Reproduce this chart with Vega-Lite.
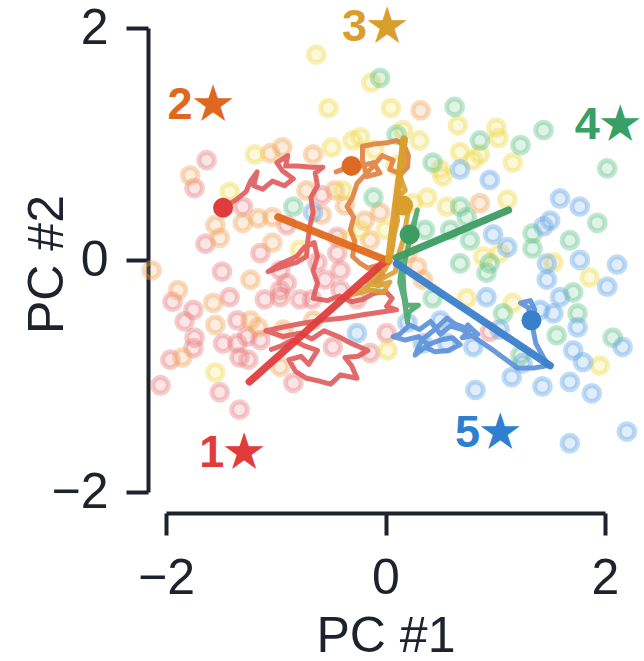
{
  "$schema": "https://vega.github.io/schema/vega-lite/v6.json",
  "autosize": "none",
  "width": 439,
  "height": 464,
  "padding": {"left": 166, "top": 28, "right": 39, "bottom": 169},
  "background": "white",
  "config": {
    "view": {"stroke": null},
    "font": "Liberation Sans",
    "axis": {
      "grid": false,
      "domainWidth": 4,
      "domainColor": "#1e222c",
      "tickWidth": 4,
      "tickSize": 22,
      "tickColor": "#1e222c",
      "labelFontSize": 50,
      "labelColor": "#1e222c",
      "labelFlush": false,
      "labelFont": "Liberation Sans",
      "titleFont": "Liberation Sans",
      "titleFontSize": 50,
      "titleFontWeight": "normal",
      "titleColor": "#1e222c"
    }
  },
  "datasets": {
    "pts": [
      {"g": 1, "x": -1.63, "y": 0.86}, {"g": 1, "x": -1.74, "y": 0.62}, {"g": 1, "x": -1.30, "y": 0.46},
      {"g": 1, "x": -1.64, "y": 0.14}, {"g": 1, "x": -1.14, "y": 0.06}, {"g": 1, "x": -1.49, "y": -0.10},
      {"g": 1, "x": -1.94, "y": -0.36}, {"g": 1, "x": -1.83, "y": -0.53}, {"g": 1, "x": -1.75, "y": -0.43},
      {"g": 1, "x": -1.42, "y": -0.32}, {"g": 1, "x": -1.35, "y": -0.52}, {"g": 1, "x": -1.74, "y": -0.67},
      {"g": 1, "x": -1.75, "y": -0.76}, {"g": 1, "x": -1.96, "y": -0.86}, {"g": 1, "x": -2.05, "y": -1.08},
      {"g": 1, "x": -1.51, "y": -1.14}, {"g": 1, "x": -1.33, "y": -1.29}, {"g": 1, "x": -1.48, "y": -0.72},
      {"g": 1, "x": -1.35, "y": -0.72}, {"g": 1, "x": -1.26, "y": -0.66}, {"g": 1, "x": -1.14, "y": -0.69},
      {"g": 1, "x": -1.33, "y": -0.84}, {"g": 1, "x": -0.96, "y": -0.26}, {"g": 1, "x": -0.90, "y": -0.20},
      {"g": 1, "x": -0.96, "y": -0.32}, {"g": 1, "x": -0.96, "y": -0.09}, {"g": 1, "x": -0.90, "y": 0.30},
      {"g": 1, "x": -0.58, "y": 0.56}, {"g": 1, "x": -0.84, "y": -1.06}, {"g": 1, "x": -0.48, "y": -0.75},
      {"g": 1, "x": -0.14, "y": -0.80}, {"g": 1, "x": 0.01, "y": -0.63}, {"g": 1, "x": -0.26, "y": -0.34},
      {"g": 1, "x": -0.41, "y": -0.26}, {"g": 1, "x": -0.41, "y": -0.09}, {"g": 1, "x": -0.44, "y": 0.06},
      {"g": 1, "x": -0.44, "y": 0.20}, {"g": 1, "x": 0.95, "y": -0.62}, {"g": 1, "x": -0.67, "y": -0.34},
      {"g": 1, "x": -1.25, "y": -0.86}, {"g": 1, "x": -1.10, "y": -0.34}, {"g": 1, "x": -0.78, "y": -0.34},
      {"g": 1, "x": -0.55, "y": -0.17}, {"g": 1, "x": -0.62, "y": -0.02},
      {"g": 2, "x": -1.78, "y": 0.73}, {"g": 2, "x": -1.55, "y": 0.30}, {"g": 2, "x": -1.51, "y": 0.19},
      {"g": 2, "x": -1.30, "y": 0.32}, {"g": 2, "x": -1.16, "y": 0.36}, {"g": 2, "x": -1.03, "y": 0.37},
      {"g": 2, "x": -1.03, "y": 0.15}, {"g": 2, "x": -2.13, "y": -0.09}, {"g": 2, "x": -1.23, "y": -0.17},
      {"g": 2, "x": -1.89, "y": -0.26}, {"g": 2, "x": -1.57, "y": -0.37}, {"g": 2, "x": -1.55, "y": -0.56},
      {"g": 2, "x": -1.85, "y": -0.84}, {"g": 2, "x": -1.23, "y": -0.52}, {"g": 2, "x": -1.16, "y": -0.58},
      {"g": 2, "x": -0.96, "y": -0.92}, {"g": 2, "x": -0.93, "y": -0.60}, {"g": 2, "x": -0.66, "y": -0.52},
      {"g": 2, "x": -1.05, "y": 0.92}, {"g": 2, "x": -0.94, "y": 0.97}, {"g": 2, "x": -0.66, "y": 0.91},
      {"g": 2, "x": 0.32, "y": 1.29}, {"g": 2, "x": -0.14, "y": 0.17}, {"g": 2, "x": -0.05, "y": 0.41},
      {"g": 2, "x": 0.86, "y": 0.49}, {"g": 2, "x": 0.20, "y": 0.06}, {"g": 2, "x": 0.29, "y": -0.06},
      {"g": 2, "x": 0.34, "y": -0.17}, {"g": 2, "x": -0.72, "y": 0.60}, {"g": 2, "x": -0.58, "y": 0.39},
      {"g": 2, "x": -0.37, "y": 0.47}, {"g": 2, "x": -0.46, "y": 0.60}, {"g": 2, "x": -0.19, "y": 0.34},
      {"g": 3, "x": -0.63, "y": 1.77}, {"g": 3, "x": -0.13, "y": 1.53}, {"g": 3, "x": -0.52, "y": 1.31},
      {"g": 3, "x": 0.05, "y": 1.31}, {"g": 3, "x": 0.66, "y": 1.16}, {"g": 3, "x": 1.01, "y": 1.14},
      {"g": 3, "x": 1.03, "y": 1.05}, {"g": 3, "x": 0.68, "y": 0.93}, {"g": 3, "x": 0.16, "y": 1.12},
      {"g": 3, "x": -0.23, "y": 1.06}, {"g": 3, "x": -0.49, "y": 0.97}, {"g": 3, "x": -1.19, "y": 0.91},
      {"g": 3, "x": -1.42, "y": 0.59}, {"g": 3, "x": -1.55, "y": -0.97}, {"g": 3, "x": -0.35, "y": 0.17},
      {"g": 3, "x": -0.39, "y": 0.60}, {"g": 3, "x": -0.23, "y": 0.26}, {"g": 3, "x": 0.25, "y": 0.49},
      {"g": 3, "x": 0.38, "y": 0.54}, {"g": 3, "x": 0.52, "y": 0.72}, {"g": 3, "x": 0.80, "y": 0.86},
      {"g": 3, "x": 1.16, "y": 0.84}, {"g": 3, "x": 1.11, "y": 0.52}, {"g": 3, "x": 0.56, "y": 0.46},
      {"g": 3, "x": 0.89, "y": 0.03}, {"g": 3, "x": 1.04, "y": 0.06}, {"g": 3, "x": 1.53, "y": -0.02},
      {"g": 3, "x": 1.86, "y": -0.15}, {"g": 3, "x": 1.16, "y": -0.37}, {"g": 3, "x": 0.74, "y": -0.33},
      {"g": 3, "x": 0.02, "y": -0.78}, {"g": 3, "x": 1.95, "y": -0.91}, {"g": 3, "x": 0.50, "y": 0.78},
      {"g": 3, "x": 0.86, "y": 0.91}, {"g": 3, "x": -0.30, "y": 1.03}, {"g": 3, "x": -0.10, "y": 0.95},
      {"g": 3, "x": 0.31, "y": 1.03}, {"g": 3, "x": 0.09, "y": 0.82}, {"g": 3, "x": -0.78, "y": 0.09},
      {"g": 3, "x": 0.00, "y": 0.26},
      {"g": 4, "x": -0.05, "y": 1.57}, {"g": 4, "x": 0.63, "y": 1.32}, {"g": 4, "x": 1.44, "y": 1.12},
      {"g": 4, "x": 0.86, "y": 1.03}, {"g": 4, "x": 1.23, "y": 0.99}, {"g": 4, "x": 0.43, "y": 0.84},
      {"g": 4, "x": 0.10, "y": 1.08}, {"g": 4, "x": 2.02, "y": 0.79}, {"g": 4, "x": 0.68, "y": 0.46},
      {"g": 4, "x": 0.74, "y": 0.37}, {"g": 4, "x": 0.59, "y": 0.26}, {"g": 4, "x": 0.77, "y": 0.17},
      {"g": 4, "x": 0.68, "y": -0.03}, {"g": 4, "x": 0.92, "y": -0.11}, {"g": 4, "x": 1.34, "y": 0.23},
      {"g": 4, "x": 1.68, "y": 0.17}, {"g": 4, "x": 1.34, "y": 0.10}, {"g": 4, "x": 1.93, "y": 0.32},
      {"g": 4, "x": 0.95, "y": -0.03}, {"g": 4, "x": 1.71, "y": -0.28}, {"g": 4, "x": 1.75, "y": -0.46},
      {"g": 4, "x": 1.56, "y": -0.65}, {"g": 4, "x": 1.07, "y": -0.46}, {"g": 4, "x": 0.43, "y": -0.33},
      {"g": 4, "x": 2.07, "y": -0.67}, {"g": 4, "x": 1.23, "y": -0.82}, {"g": 4, "x": -0.11, "y": -0.20},
      {"g": 4, "x": -0.11, "y": 0.54}, {"g": 4, "x": -0.84, "y": 0.46}, {"g": 4, "x": 0.36, "y": 0.26},
      {"g": 5, "x": 0.68, "y": 0.78}, {"g": 5, "x": 0.95, "y": 0.69}, {"g": 5, "x": 0.98, "y": 0.22},
      {"g": 5, "x": 1.11, "y": 0.11}, {"g": 5, "x": 1.59, "y": 0.53}, {"g": 5, "x": 1.77, "y": 0.46},
      {"g": 5, "x": 1.50, "y": 0.34}, {"g": 5, "x": 1.44, "y": 0.29}, {"g": 5, "x": 1.47, "y": -0.03},
      {"g": 5, "x": 1.77, "y": 0.00}, {"g": 5, "x": 2.11, "y": -0.04}, {"g": 5, "x": 2.02, "y": -0.23},
      {"g": 5, "x": 1.47, "y": -0.17}, {"g": 5, "x": 1.59, "y": -0.32}, {"g": 5, "x": 1.41, "y": -0.43},
      {"g": 5, "x": 0.92, "y": -0.32}, {"g": 5, "x": 1.75, "y": -0.58}, {"g": 5, "x": 1.71, "y": -0.78},
      {"g": 5, "x": 1.80, "y": -0.88}, {"g": 5, "x": 1.53, "y": -0.46}, {"g": 5, "x": 1.15, "y": -1.01},
      {"g": 5, "x": 1.43, "y": -1.09}, {"g": 5, "x": 1.68, "y": -1.05}, {"g": 5, "x": 1.88, "y": -1.15},
      {"g": 5, "x": 0.82, "y": -1.12}, {"g": 5, "x": 1.68, "y": -1.58}, {"g": 5, "x": 2.20, "y": -1.48},
      {"g": 5, "x": 2.16, "y": -0.75}, {"g": 5, "x": 0.56, "y": -0.72}, {"g": 5, "x": 0.80, "y": -0.75},
      {"g": 5, "x": 0.34, "y": -0.72}, {"g": 5, "x": 0.20, "y": -0.54}, {"g": 5, "x": -0.26, "y": -0.63},
      {"g": 5, "x": -0.66, "y": 0.41}, {"g": 5, "x": 1.25, "y": -0.89}, {"g": 5, "x": 0.50, "y": -0.52},
      {"g": 5, "x": 1.04, "y": -0.60}
    ],
    "walks": [
      {"g": 1, "i": 1, "x": -1.48, "y": 0.45}, {"g": 1, "i": 2, "x": -1.36, "y": 0.52}, {"g": 1, "i": 3, "x": -1.27, "y": 0.59},
      {"g": 1, "i": 4, "x": -1.23, "y": 0.68}, {"g": 1, "i": 5, "x": -1.17, "y": 0.76}, {"g": 1, "i": 6, "x": -1.20, "y": 0.64},
      {"g": 1, "i": 7, "x": -1.12, "y": 0.61}, {"g": 1, "i": 8, "x": -1.03, "y": 0.68}, {"g": 1, "i": 9, "x": -0.92, "y": 0.64},
      {"g": 1, "i": 10, "x": -0.84, "y": 0.70}, {"g": 1, "i": 11, "x": -0.94, "y": 0.77}, {"g": 1, "i": 12, "x": -0.99, "y": 0.84},
      {"g": 1, "i": 13, "x": -0.89, "y": 0.90}, {"g": 1, "i": 14, "x": -0.91, "y": 0.81}, {"g": 1, "i": 15, "x": -0.80, "y": 0.81},
      {"g": 1, "i": 16, "x": -0.67, "y": 0.80}, {"g": 1, "i": 17, "x": -0.57, "y": 0.80}, {"g": 1, "i": 18, "x": -0.64, "y": 0.75},
      {"g": 1, "i": 19, "x": -0.62, "y": 0.64}, {"g": 1, "i": 20, "x": -0.68, "y": 0.54}, {"g": 1, "i": 21, "x": -0.66, "y": 0.41},
      {"g": 1, "i": 22, "x": -0.69, "y": 0.29}, {"g": 1, "i": 23, "x": -0.71, "y": 0.15}, {"g": 1, "i": 24, "x": -0.72, "y": 0.03},
      {"g": 1, "i": 25, "x": -0.81, "y": -0.02}, {"g": 1, "i": 26, "x": -0.92, "y": -0.05}, {"g": 1, "i": 27, "x": -1.07, "y": -0.10},
      {"g": 1, "i": 28, "x": -0.95, "y": -0.03}, {"g": 1, "i": 29, "x": -0.81, "y": 0.03}, {"g": 1, "i": 30, "x": -0.74, "y": 0.11},
      {"g": 1, "i": 31, "x": -0.65, "y": 0.15}, {"g": 1, "i": 32, "x": -0.62, "y": 0.03}, {"g": 1, "i": 33, "x": -0.66, "y": -0.09},
      {"g": 1, "i": 34, "x": -0.62, "y": -0.20}, {"g": 1, "i": 35, "x": -0.66, "y": -0.33}, {"g": 1, "i": 36, "x": -0.53, "y": -0.35},
      {"g": 1, "i": 37, "x": -0.42, "y": -0.31}, {"g": 1, "i": 38, "x": -0.31, "y": -0.36}, {"g": 1, "i": 39, "x": -0.21, "y": -0.34},
      {"g": 1, "i": 40, "x": -0.11, "y": -0.29}, {"g": 1, "i": 41, "x": 0.00, "y": -0.27}, {"g": 1, "i": 42, "x": 0.06, "y": -0.33},
      {"g": 1, "i": 43, "x": 0.01, "y": -0.40}, {"g": 1, "i": 44, "x": 0.10, "y": -0.43}, {"g": 1, "i": 45, "x": -0.05, "y": -0.45},
      {"g": 1, "i": 46, "x": -0.19, "y": -0.47}, {"g": 1, "i": 47, "x": -0.38, "y": -0.50}, {"g": 1, "i": 48, "x": -0.58, "y": -0.52},
      {"g": 1, "i": 49, "x": -0.78, "y": -0.55}, {"g": 1, "i": 50, "x": -0.94, "y": -0.58}, {"g": 1, "i": 51, "x": -1.09, "y": -0.61},
      {"g": 1, "i": 52, "x": -0.93, "y": -0.66}, {"g": 1, "i": 53, "x": -0.78, "y": -0.63}, {"g": 1, "i": 54, "x": -0.67, "y": -0.68},
      {"g": 1, "i": 55, "x": -0.56, "y": -0.61}, {"g": 1, "i": 56, "x": -0.43, "y": -0.66}, {"g": 1, "i": 57, "x": -0.31, "y": -0.72},
      {"g": 1, "i": 58, "x": -0.16, "y": -0.78}, {"g": 1, "i": 59, "x": -0.25, "y": -0.83}, {"g": 1, "i": 60, "x": -0.37, "y": -0.84},
      {"g": 1, "i": 61, "x": -0.31, "y": -0.91}, {"g": 1, "i": 62, "x": -0.26, "y": -1.02}, {"g": 1, "i": 63, "x": -0.41, "y": -0.99},
      {"g": 1, "i": 64, "x": -0.50, "y": -1.07}, {"g": 1, "i": 65, "x": -0.62, "y": -1.04}, {"g": 1, "i": 66, "x": -0.72, "y": -1.02},
      {"g": 1, "i": 67, "x": -0.82, "y": -0.96}, {"g": 1, "i": 68, "x": -0.88, "y": -0.86}, {"g": 1, "i": 69, "x": -0.77, "y": -0.83},
      {"g": 1, "i": 70, "x": -0.70, "y": -0.90}, {"g": 1, "i": 71, "x": -0.62, "y": -0.78}, {"g": 1, "i": 72, "x": -0.74, "y": -0.74},
      {"g": 1, "i": 73, "x": -0.85, "y": -0.69}, {"g": 1, "i": 74, "x": -0.95, "y": -0.74}, {"g": 1, "i": 75, "x": -1.04, "y": -0.77},
      {"g": 2, "i": 1, "x": -0.31, "y": 0.81}, {"g": 2, "i": 2, "x": -0.45, "y": 0.76}, {"g": 2, "i": 3, "x": -0.37, "y": 0.79},
      {"g": 2, "i": 4, "x": -0.23, "y": 0.81}, {"g": 2, "i": 5, "x": -0.11, "y": 0.84}, {"g": 2, "i": 6, "x": -0.05, "y": 0.75},
      {"g": 2, "i": 7, "x": -0.17, "y": 0.72}, {"g": 2, "i": 8, "x": -0.21, "y": 0.86}, {"g": 2, "i": 9, "x": -0.21, "y": 0.98},
      {"g": 2, "i": 10, "x": -0.10, "y": 1.00}, {"g": 2, "i": 11, "x": 0.01, "y": 1.01}, {"g": 2, "i": 12, "x": 0.10, "y": 1.03},
      {"g": 2, "i": 13, "x": 0.17, "y": 0.99}, {"g": 2, "i": 14, "x": 0.21, "y": 0.90}, {"g": 2, "i": 15, "x": 0.20, "y": 0.80},
      {"g": 2, "i": 16, "x": 0.14, "y": 0.74}, {"g": 2, "i": 17, "x": 0.04, "y": 0.78}, {"g": 2, "i": 18, "x": 0.07, "y": 0.86},
      {"g": 2, "i": 19, "x": -0.03, "y": 0.90}, {"g": 2, "i": 20, "x": -0.13, "y": 0.79}, {"g": 2, "i": 21, "x": -0.26, "y": 0.66},
      {"g": 2, "i": 22, "x": -0.30, "y": 0.54}, {"g": 2, "i": 23, "x": -0.35, "y": 0.46}, {"g": 2, "i": 24, "x": -0.29, "y": 0.37},
      {"g": 2, "i": 25, "x": -0.32, "y": 0.26}, {"g": 2, "i": 26, "x": -0.28, "y": 0.16}, {"g": 2, "i": 27, "x": -0.30, "y": 0.03},
      {"g": 2, "i": 28, "x": -0.23, "y": -0.03}, {"g": 2, "i": 29, "x": -0.16, "y": -0.07}, {"g": 2, "i": 30, "x": -0.09, "y": -0.05},
      {"g": 2, "i": 31, "x": -0.02, "y": -0.13}, {"g": 2, "i": 32, "x": -0.10, "y": -0.19},
      {"g": 3, "i": 1, "x": 0.16, "y": 0.47}, {"g": 3, "i": 2, "x": 0.10, "y": 0.53}, {"g": 3, "i": 3, "x": 0.18, "y": 0.60},
      {"g": 3, "i": 4, "x": 0.13, "y": 0.73}, {"g": 3, "i": 5, "x": 0.17, "y": 0.86}, {"g": 3, "i": 6, "x": 0.15, "y": 0.99},
      {"g": 3, "i": 7, "x": 0.18, "y": 1.03}, {"g": 3, "i": 8, "x": 0.14, "y": 0.88}, {"g": 3, "i": 9, "x": 0.12, "y": 0.69},
      {"g": 3, "i": 10, "x": 0.10, "y": 0.47}, {"g": 3, "i": 11, "x": 0.11, "y": 0.34}, {"g": 3, "i": 12, "x": 0.08, "y": 0.22},
      {"g": 3, "i": 13, "x": 0.06, "y": 0.09}, {"g": 3, "i": 14, "x": 0.03, "y": -0.02}, {"g": 3, "i": 15, "x": -0.01, "y": -0.09},
      {"g": 3, "i": 16, "x": -0.10, "y": -0.13}, {"g": 3, "i": 17, "x": -0.16, "y": -0.19}, {"g": 3, "i": 18, "x": -0.07, "y": -0.22},
      {"g": 3, "i": 19, "x": 0.04, "y": -0.19}, {"g": 3, "i": 20, "x": -0.02, "y": -0.28}, {"g": 3, "i": 21, "x": -0.12, "y": -0.26},
      {"g": 3, "i": 22, "x": -0.23, "y": -0.28}, {"g": 3, "i": 23, "x": -0.32, "y": -0.30}, {"g": 3, "i": 24, "x": -0.19, "y": -0.24},
      {"g": 3, "i": 25, "x": -0.05, "y": -0.17}, {"g": 3, "i": 26, "x": 0.09, "y": -0.10}, {"g": 3, "i": 27, "x": 0.11, "y": 0.02},
      {"g": 3, "i": 28, "x": 0.16, "y": 0.17}, {"g": 3, "i": 29, "x": 0.19, "y": 0.33}, {"g": 3, "i": 30, "x": 0.21, "y": 0.43},
      {"g": 4, "i": 1, "x": 0.22, "y": 0.22}, {"g": 4, "i": 2, "x": 0.26, "y": 0.33}, {"g": 4, "i": 3, "x": 0.29, "y": 0.43},
      {"g": 4, "i": 4, "x": 0.25, "y": 0.26}, {"g": 4, "i": 5, "x": 0.21, "y": 0.13}, {"g": 4, "i": 6, "x": 0.18, "y": 0.00},
      {"g": 4, "i": 7, "x": 0.16, "y": -0.13}, {"g": 4, "i": 8, "x": 0.17, "y": -0.28}, {"g": 4, "i": 9, "x": 0.19, "y": -0.39},
      {"g": 4, "i": 10, "x": 0.30, "y": -0.39}, {"g": 4, "i": 11, "x": 0.21, "y": -0.45}, {"g": 4, "i": 12, "x": 0.20, "y": -0.54},
      {"g": 4, "i": 13, "x": 0.17, "y": -0.34}, {"g": 4, "i": 14, "x": 0.13, "y": -0.19}, {"g": 4, "i": 15, "x": 0.15, "y": -0.02},
      {"g": 5, "i": 1, "x": 1.33, "y": -0.52}, {"g": 5, "i": 2, "x": 1.30, "y": -0.41}, {"g": 5, "i": 3, "x": 1.23, "y": -0.37},
      {"g": 5, "i": 4, "x": 1.32, "y": -0.35}, {"g": 5, "i": 5, "x": 1.36, "y": -0.43}, {"g": 5, "i": 6, "x": 1.34, "y": -0.58},
      {"g": 5, "i": 7, "x": 1.37, "y": -0.72}, {"g": 5, "i": 8, "x": 1.48, "y": -0.91}, {"g": 5, "i": 9, "x": 1.36, "y": -0.93},
      {"g": 5, "i": 10, "x": 1.20, "y": -0.93}, {"g": 5, "i": 11, "x": 1.00, "y": -0.79}, {"g": 5, "i": 12, "x": 0.80, "y": -0.66},
      {"g": 5, "i": 13, "x": 0.70, "y": -0.60}, {"g": 5, "i": 14, "x": 0.59, "y": -0.57}, {"g": 5, "i": 15, "x": 0.50, "y": -0.64},
      {"g": 5, "i": 16, "x": 0.41, "y": -0.53}, {"g": 5, "i": 17, "x": 0.31, "y": -0.60}, {"g": 5, "i": 18, "x": 0.22, "y": -0.56},
      {"g": 5, "i": 19, "x": 0.13, "y": -0.64}, {"g": 5, "i": 20, "x": 0.07, "y": -0.66}, {"g": 5, "i": 21, "x": 0.18, "y": -0.69},
      {"g": 5, "i": 22, "x": 0.30, "y": -0.66}, {"g": 5, "i": 23, "x": 0.39, "y": -0.73}, {"g": 5, "i": 24, "x": 0.50, "y": -0.69},
      {"g": 5, "i": 25, "x": 0.61, "y": -0.67}, {"g": 5, "i": 26, "x": 0.68, "y": -0.73}, {"g": 5, "i": 27, "x": 0.57, "y": -0.78},
      {"g": 5, "i": 28, "x": 0.45, "y": -0.79}, {"g": 5, "i": 29, "x": 0.36, "y": -0.75}, {"g": 5, "i": 30, "x": 0.27, "y": -0.82},
      {"g": 5, "i": 31, "x": 0.33, "y": -0.69}, {"g": 5, "i": 32, "x": 0.46, "y": -0.59}, {"g": 5, "i": 33, "x": 0.56, "y": -0.50},
      {"g": 5, "i": 34, "x": 0.63, "y": -0.55}, {"g": 5, "i": 35, "x": 0.77, "y": -0.60}, {"g": 5, "i": 36, "x": 0.70, "y": -0.67},
      {"g": 5, "i": 37, "x": 0.84, "y": -0.64}, {"g": 5, "i": 38, "x": 0.75, "y": -0.56}
    ],
    "vecs": [
      {"g": 1, "i": 1, "x": 0.02, "y": 0.01}, {"g": 1, "i": 2, "x": -1.24, "y": -1.05},
      {"g": 2, "i": 1, "x": 0.03, "y": -0.01}, {"g": 2, "i": 2, "x": -0.98, "y": 0.37},
      {"g": 3, "i": 1, "x": 0.03, "y": 0.00}, {"g": 3, "i": 2, "x": 0.17, "y": 1.04},
      {"g": 4, "i": 1, "x": 0.10, "y": 0.02}, {"g": 4, "i": 2, "x": 1.12, "y": 0.43},
      {"g": 5, "i": 1, "x": 0.10, "y": -0.03}, {"g": 5, "i": 2, "x": 1.50, "y": -0.91}
    ],
    "dots": [
      {"g": 1, "x": -1.48, "y": 0.45},
      {"g": 2, "x": -0.31, "y": 0.81},
      {"g": 3, "x": 0.16, "y": 0.47},
      {"g": 4, "x": 0.22, "y": 0.22},
      {"g": 5, "x": 1.33, "y": -0.52}
    ],
    "stars": [
      {"g": 1, "x": -1.40, "y": -1.66, "t": "1★"},
      {"g": 2, "x": -1.69, "y": 1.34, "t": "2★"},
      {"g": 3, "x": -0.10, "y": 2.01, "t": "3★"},
      {"g": 4, "x": 2.02, "y": 1.16, "t": "4★"},
      {"g": 5, "x": 0.93, "y": -1.49, "t": "5★"}
    ]
  },
  "encoding": {
    "x": {
      "field": "x",
      "type": "quantitative",
      "scale": {"domain": [-2, 2], "nice": false, "zero": false},
      "axis": {"values": [-2, 0, 2], "title": "PC #1", "offset": 21, "labelPadding": 18, "titlePadding": 8}
    },
    "y": {
      "field": "y",
      "type": "quantitative",
      "scale": {"domain": [-2, 2], "nice": false, "zero": false},
      "axis": {"values": [-2, 0, 2], "title": "PC #2", "offset": 18, "labelPadding": 18, "titleX": -86, "titleY": 236, "titleBaseline": "alphabetic"}
    }
  },
  "layer": [
    {
      "data": {"name": "pts"},
      "mark": {"type": "circle", "size": 250, "fillOpacity": 0.2, "strokeOpacity": 0.4, "strokeWidth": 5},
      "encoding": {
        "fill": {"field": "g", "type": "nominal", "legend": null,
          "scale": {"domain": [1, 2, 3, 4, 5], "range": ["#ec7c80", "#f2a45a", "#f0da4a", "#62c486", "#62a6e6"]}},
        "stroke": {"field": "g", "type": "nominal", "legend": null,
          "scale": {"domain": [1, 2, 3, 4, 5], "range": ["#ec7c80", "#f2a45a", "#f0da4a", "#62c486", "#62a6e6"]}}
      }
    },
    {
      "data": {"name": "walks"},
      "mark": {"type": "line", "strokeWidth": 5, "opacity": 0.9, "strokeJoin": "round", "strokeCap": "round"},
      "encoding": {
        "color": {"field": "g", "type": "nominal", "legend": null,
          "scale": {"domain": [1, 2, 3, 4, 5], "range": ["#e05a5a", "#e07f3e", "#d9a032", "#4aa66a", "#5a8fd8"]}},
        "order": {"field": "i", "type": "quantitative"}
      }
    },
    {
      "data": {"name": "vecs"},
      "mark": {"type": "line", "strokeWidth": 7.5, "opacity": 0.95, "strokeCap": "round"},
      "encoding": {
        "color": {"field": "g", "type": "nominal", "legend": null,
          "scale": {"domain": [1, 2, 3, 4, 5], "range": ["#e03c3c", "#e0691f", "#d99e2b", "#3c9c62", "#3a7fcc"]}},
        "order": {"field": "i", "type": "quantitative"}
      }
    },
    {
      "data": {"name": "dots"},
      "mark": {"type": "circle", "size": 400, "opacity": 1},
      "encoding": {
        "color": {"field": "g", "type": "nominal", "legend": null,
          "scale": {"domain": [1, 2, 3, 4, 5], "range": ["#df3d3d", "#dc6a24", "#d99e2b", "#3c9c62", "#3a7fcc"]}}
      }
    },
    {
      "data": {"name": "stars"},
      "mark": {"type": "text", "fontSize": 45, "fontWeight": "bold", "font": "Liberation Sans", "align": "center", "baseline": "middle"},
      "encoding": {
        "text": {"field": "t"},
        "color": {"field": "g", "type": "nominal", "legend": null,
          "scale": {"domain": [1, 2, 3, 4, 5], "range": ["#e33a3a", "#e0681e", "#d99e2b", "#38a066", "#2f7fd0"]}}
      }
    }
  ],
  "resolve": {"scale": {"color": "independent", "fill": "independent", "stroke": "independent"}}
}
